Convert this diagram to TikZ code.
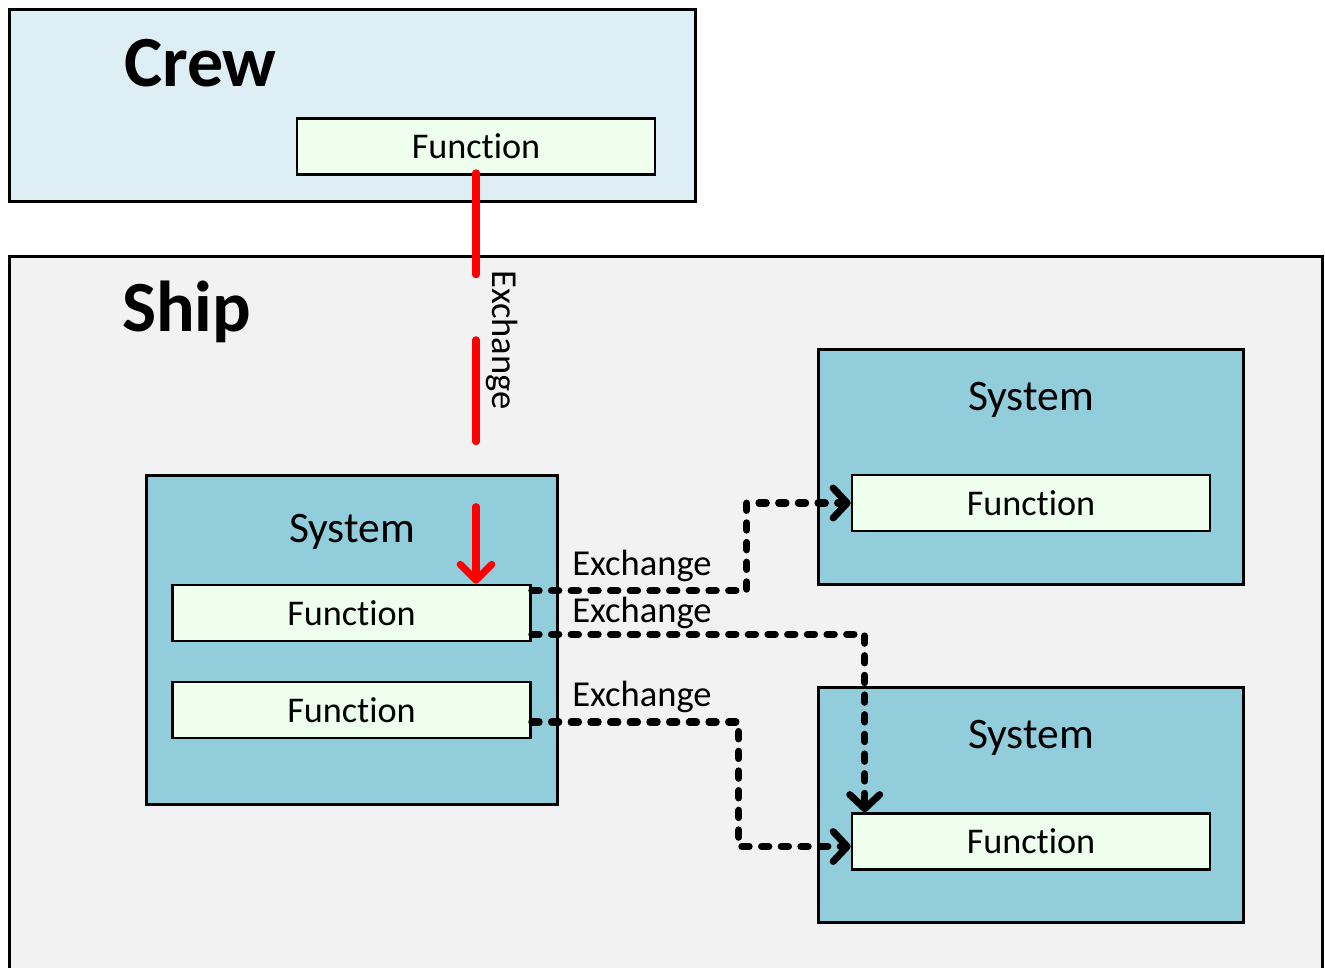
\documentclass[tikz,border=0pt]{standalone}
\usepackage{fontspec}
\setmainfont[Ligatures={NoCommon}]{Carlito}
\usetikzlibrary{arrows.meta}

\definecolor{crewblue}{HTML}{DDEEF4}
\definecolor{shipgray}{HTML}{F2F2F2}
\definecolor{sysblue}{HTML}{92CDDC}
\definecolor{funcgreen}{HTML}{EEFFEE}

\tikzset{
  area/.style={draw=black, line width=1.7pt, rectangle, inner sep=0pt},
  sysbox/.style={area, fill=sysblue, minimum width=8.52cm, minimum height=4.72cm},
  funcbox/.style={draw=black, line width=1.5pt, fill=funcgreen, minimum width=7.16cm,
    minimum height=1.12cm, inner sep=0pt, font=\fontsize{20.6}{24}\selectfont},
  title/.style={font=\fontsize{41}{48}\selectfont\bfseries, anchor=west},
  systitle/.style={font=\fontsize{24.8}{28}\selectfont},
  exlabel/.style={font=\fontsize{20.8}{24}\selectfont, anchor=west, inner sep=0pt},
  exch/.style={black, line width=4pt, line cap=round, dash pattern=on 4.2pt off 7pt,
    -{Straight Barb[length=8pt,width=17pt,line cap=round,line join=round]}},
  redex/.style={red, line width=4pt, line cap=round, dash pattern=on 58pt off 37pt,
    -{Straight Barb[length=9pt,width=18pt,line cap=round,line join=round]}}
}

\begin{document}
\begin{tikzpicture}[x=0.02cm, y=-0.02cm]
  \useasboundingbox (0,0) rectangle (1325,967);
  % crew and ship areas
  \node[area, fill=crewblue, minimum width=13.74cm, minimum height=3.86cm] (crew) at (352.5,105.5) {};
  \node[title] (crewT) at (118,63) {Crew};
  \node[area, fill=shipgray, minimum width=26.28cm, minimum height=14.8cm] (ship) at (666,626) {};
  \node[title] (shipT) at (116,312) {Ship};

  % systems
  \node[area, fill=sysblue, minimum width=8.24cm, minimum height=6.6cm] (lsys) at (352,640) {};
  \node[systitle] (lsysT) at (352,532) {System};
  \node[sysbox] (tsys) at (1031,467) {};
  \node[systitle] (tsysT) at (1031,400) {System};
  \node[sysbox] (bsys) at (1031,805) {};
  \node[systitle] (bsysT) at (1031,738) {System};

  % functions
  \node[funcbox] (cf) at (476,146.5) {Function};
  \node[funcbox] (f1) at (351.5,613) {Function};
  \node[funcbox] (f2) at (351.5,710) {Function};
  \node[funcbox] (rf1) at (1031,503) {Function};
  \node[funcbox] (rf2) at (1031,841.5) {Function};

  % exchanges
  \draw[redex] ([yshift=0.06cm]cf.south) -- (cf.south |- f1.north);
  \node[font=\fontsize{20.8}{24}\selectfont, rotate=-90] (exv) at (502,340) {Exchange};
  \draw[exch] ([yshift=-0.14cm]f1.north east) -| ([xshift=-2.08cm]rf1.west) -- (rf1.west);
  \draw[exch] ([yshift=0.16cm]f1.south east) -| ([xshift=0.28cm]rf2.north west);
  \draw[exch] ([yshift=-0.24cm]f2.east) -| ([xshift=-2.24cm,yshift=-0.1cm]rf2.west) -- ([yshift=-0.1cm]rf2.west);
  \node[exlabel] (ex1) at (572,566) {Exchange};
  \node[exlabel] (ex2) at (572,613) {Exchange};
  \node[exlabel] (ex3) at (572,697) {Exchange};
\end{tikzpicture}
\end{document}
